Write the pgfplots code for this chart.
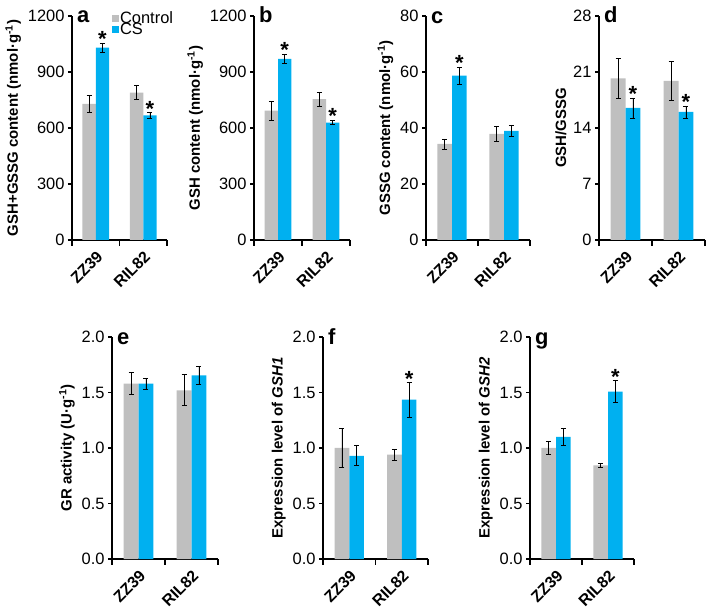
\documentclass[border=0pt]{standalone}
\usepackage{fontspec}
\setmainfont{Liberation Sans}
\usepackage{pgfplots}
\pgfplotsset{compat=1.18}
\definecolor{cGray}{HTML}{BFBFBF}
\definecolor{cBlue}{HTML}{00B0F0}
\newcommand{\tickfont}{\fontsize{16.5}{17}\selectfont}
\newcommand{\labfont}{\fontsize{15}{16}\selectfont\bfseries}
\newcommand{\catfont}{\fontsize{16}{17}\selectfont\bfseries}
\tikzset{
  sigstar/.style={font=\fontsize{22}{22}\selectfont\bfseries, anchor=base, inner sep=0pt, yshift=-3.5bp},
  panlet/.style={font=\fontsize{22}{22}\selectfont\bfseries, anchor=base west, inner sep=0pt, xshift=5bp, yshift=-7bp},
}
\pgfplotsset{
  panel/.style={
    scale only axis, anchor=south west, clip=false,
    axis x line*=bottom, axis y line*=left,
    axis line style={line width=1.2bp, black},
    xmin=-0.5, xmax=1.5,
    xtick={0,1}, xticklabels={ZZ39,RIL82},
    major x tick style={draw=none},
    xticklabel style={rotate=45, anchor=north east, font=\catfont, inner sep=1bp, xshift=-3bp, yshift=-3bp},
    tick align=outside, major tick length=4bp,
    tick style={line width=1.2bp, black},
    ymin=0,
    yticklabel style={font=\tickfont, /pgf/number format/assume math mode=true, /pgf/number format/1000 sep={}},
    scaled ticks=false,
    ylabel style={font=\labfont},
    % category boundary ticks, as Excel draws them
    after end axis/.code={
      \draw[line width=1.2bp, black] (rel axis cs:0,0) -- ++(0,-6bp);
      \draw[line width=1.2bp, black] (rel axis cs:0.5,0) -- ++(0,-6bp);
      \draw[line width=1.2bp, black] (rel axis cs:1,0) -- ++(0,-6bp);
    },
  },
  dec/.style={yticklabel style={/pgf/number format/fixed, /pgf/number format/fixed zerofill, /pgf/number format/precision=1}},
  bars/.style={ybar, bar width=0.28, bar shift=0pt, draw=none,
    /pgfplots/error bars/y dir=both, /pgfplots/error bars/y explicit,
    /pgfplots/error bars/error bar style={line width=0.8bp, black},
    /pgfplots/error bars/error mark options={rotate=90, mark size=2.5bp, line width=0.8bp, black}},
  ctrl/.style={fill=cGray, bars},
  cs/.style={fill=cBlue, bars},
}
\begin{document}
\begin{tikzpicture}
% a
\begin{axis}[panel, at={(72bp,371bp)}, width=95bp, height=224bp,
  ymax=1200, ytick={0,300,600,900,1200},
  ylabel={GSH+GSSG content (nmol·g\textsuperscript{-1})},
  legend style={at={(rel axis cs:0.42,1.025)}, anchor=north west, draw=none, fill=none,
    font=\tickfont, inner sep=0pt, row sep=-4bp, nodes={inner sep=1bp}},
  legend cell align=left,
  legend image code/.code={\fill[#1] (0bp,-3.5bp) rectangle (7bp,3.5bp);}]
\addplot[ctrl] coordinates {(-0.14,729) +- (0,47) (0.86,789) +- (0,37)};
\addlegendentry{Control}
\addplot[cs] coordinates {(0.14,1030) +- (0,24) (1.14,668) +- (0,15)};
\addlegendentry{CS}
\node[sigstar] at (axis cs:0.14,1054) {*};
\node[sigstar] at (axis cs:1.14,683) {*};
\node[panlet] at (rel axis cs:0,1) {a};
\end{axis}
% b
\begin{axis}[panel, at={(254bp,371bp)}, width=96bp, height=224bp,
  ymax=1200, ytick={0,300,600,900,1200},
  ylabel={GSH content (nmol·g\textsuperscript{-1})}]
\addplot[ctrl] coordinates {(-0.14,693) +- (0,50) (0.86,754) +- (0,38)};
\addplot[cs] coordinates {(0.14,970) +- (0,25) (1.14,629) +- (0,12)};
\node[sigstar] at (axis cs:0.14,995) {*};
\node[sigstar] at (axis cs:1.14,641) {*};
\node[panlet] at (rel axis cs:0,1) {b};
\end{axis}
% c
\begin{axis}[panel, at={(426bp,371bp)}, width=104bp, height=224bp,
  ymax=80, ytick={0,20,40,60,80},
  ylabel={GSSG content (nmol·g\textsuperscript{-1})}]
\addplot[ctrl] coordinates {(-0.14,34.3) +- (0,1.8) (0.86,37.9) +- (0,2.8)};
\addplot[cs] coordinates {(0.14,58.7) +- (0,3.0) (1.14,39.0) +- (0,2.1)};
\node[sigstar] at (axis cs:0.14,61.7) {*};
\node[panlet] at (rel axis cs:0,1) {c};
\end{axis}
% d
\begin{axis}[panel, at={(599bp,371bp)}, width=106bp, height=224bp,
  ymax=28, ytick={0,7,14,21,28},
  ylabel={GSH/GSSG}]
\addplot[ctrl] coordinates {(-0.14,20.2) +- (0,2.45) (0.86,19.9) +- (0,2.4)};
\addplot[cs] coordinates {(0.14,16.5) +- (0,1.25) (1.14,16.0) +- (0,0.75)};
\node[sigstar] at (axis cs:0.14,17.75) {*};
\node[sigstar] at (axis cs:1.14,16.75) {*};
\node[panlet] at (rel axis cs:0,1) {d};
\end{axis}
% e
\begin{axis}[panel, dec, at={(112bp,52bp)}, width=106bp, height=222bp,
  ymax=2, ytick={0,0.5,1,1.5,2},
  ylabel={GR activity (U·g\textsuperscript{-1})}]
\addplot[ctrl] coordinates {(-0.14,1.58) +- (0,0.10) (0.86,1.52) +- (0,0.14)};
\addplot[cs] coordinates {(0.14,1.58) +- (0,0.05) (1.14,1.655) +- (0,0.08)};
\node[panlet] at (rel axis cs:0,1) {e};
\end{axis}
% f
\begin{axis}[panel, dec, at={(323bp,52bp)}, width=105bp, height=222bp,
  ymax=2, ytick={0,0.5,1,1.5,2},
  ylabel={Expression level of \textit{GSH1}}]
\addplot[ctrl] coordinates {(-0.14,1.00) +- (0,0.175) (0.86,0.94) +- (0,0.05)};
\addplot[cs] coordinates {(0.14,0.93) +- (0,0.09) (1.14,1.435) +- (0,0.155)};
\node[sigstar] at (axis cs:1.14,1.59) {*};
\node[panlet] at (rel axis cs:0,1) {f};
\end{axis}
% g
\begin{axis}[panel, dec, at={(530bp,52bp)}, width=104bp, height=222bp,
  ymax=2, ytick={0,0.5,1,1.5,2},
  ylabel={Expression level of \textit{GSH2}}]
\addplot[ctrl] coordinates {(-0.14,1.00) +- (0,0.055) (0.86,0.844) +- (0,0.015)};
\addplot[cs] coordinates {(0.14,1.10) +- (0,0.08) (1.14,1.507) +- (0,0.10)};
\node[sigstar] at (axis cs:1.14,1.607) {*};
\node[panlet] at (rel axis cs:0,1) {g};
\end{axis}
\pgfresetboundingbox
\path[use as bounding box] (0bp,0bp) rectangle (709bp,611bp);
\end{tikzpicture}
\end{document}
